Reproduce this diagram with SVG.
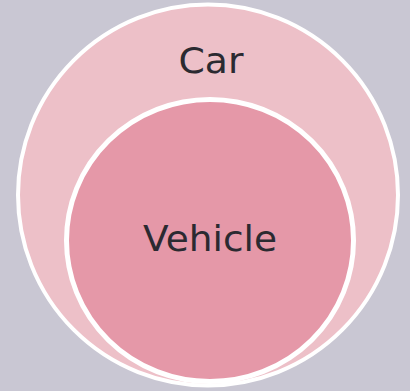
<svg xmlns="http://www.w3.org/2000/svg" width="410" height="391" viewBox="0 0 410 391">
<style>
.lbl{font-family:"DejaVu Sans","Liberation Sans",sans-serif;font-size:36px;fill:#2b2a31;text-anchor:middle}
.ring{stroke:#ffffff}
</style>
<rect width="410" height="391" fill="#c9c7d3"/>
<g id="car">
<ellipse class="ring" cx="208" cy="195" rx="190" ry="190.5" fill="#edc0c8" stroke-width="4"/>
<text class="lbl" x="211" y="73" textLength="65" lengthAdjust="spacingAndGlyphs">Car</text>
</g>
<g id="vehicle">
<ellipse class="ring" cx="210" cy="240.5" rx="143.5" ry="141" fill="#e598a8" stroke-width="5"/>
<text class="lbl" x="210" y="251" textLength="134" lengthAdjust="spacingAndGlyphs">Vehicle</text>
</g>
<g id="connectors"/>
</svg>
